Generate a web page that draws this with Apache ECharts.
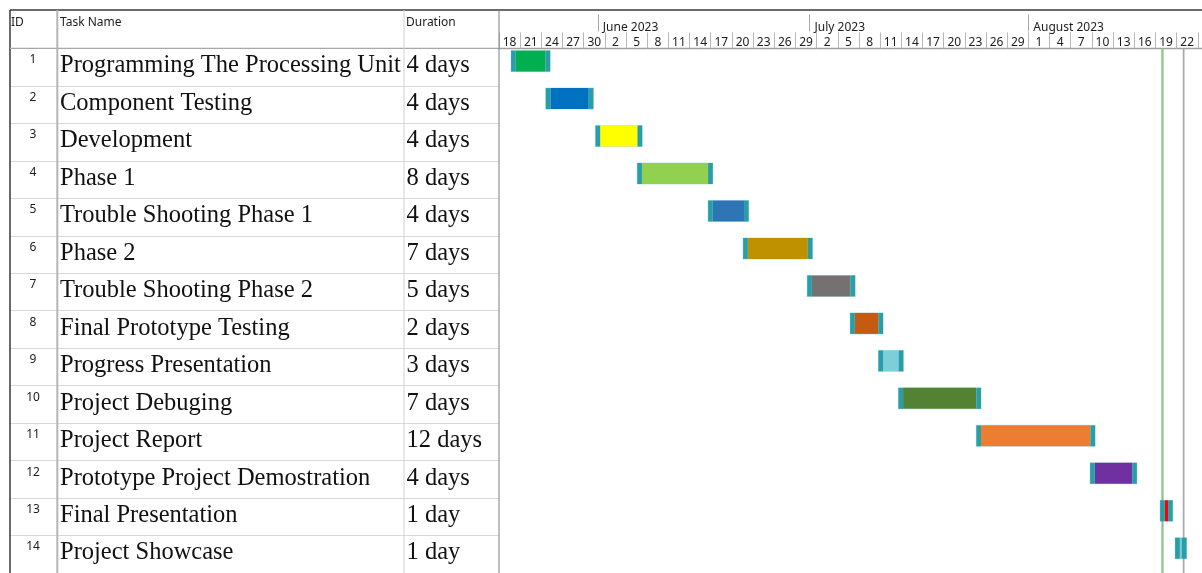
<!DOCTYPE html>
<html><head><meta charset="utf-8">
<script src="https://cdn.jsdelivr.net/npm/echarts@6/dist/echarts.min.js"></script>
<style>html,body{margin:0;padding:0;background:#fff}#c{width:1202px;height:573px}</style>
</head><body><div id="c"></div>
<script>
// ---------------- data ----------------
const columnHeaders = ['ID', 'Task Name', 'Duration'];
const taskIds = [1, 2, 3, 4, 5, 6, 7, 8, 9, 10, 11, 12, 13, 14];
const taskNames = [
  'Programming The Processing Unit', 'Component Testing', 'Development', 'Phase 1',
  'Trouble Shooting Phase 1', 'Phase 2', 'Trouble Shooting Phase 2', 'Final Prototype Testing',
  'Progress Presentation', 'Project Debuging', 'Project Report', 'Prototype Project Demostration',
  'Final Presentation', 'Project Showcase'
];
const durations = ['4 days', '4 days', '4 days', '8 days', '4 days', '7 days', '5 days', '2 days',
  '3 days', '7 days', '12 days', '4 days', '1 day', '1 day'];
const startTimes = ['2023-05-20 09:00', '2023-05-25 07:00', '2023-06-01 08:00', '2023-06-07 06:00',
  '2023-06-17 07:00', '2023-06-22 06:00', '2023-07-01 08:00', '2023-07-07 10:00',
  '2023-07-11 10:00', '2023-07-14 06:00', '2023-07-25 07:00', '2023-08-10 10:00',
  '2023-08-20 08:00', '2023-08-22 11:00'];
const endTimes = ['2023-05-24 14:00', '2023-05-30 17:00', '2023-06-06 15:00', '2023-06-16 15:00',
  '2023-06-21 17:00', '2023-06-30 18:00', '2023-07-06 19:00', '2023-07-10 18:00',
  '2023-07-13 15:00', '2023-07-24 15:00', '2023-08-09 19:00', '2023-08-15 17:00',
  '2023-08-20 19:00', '2023-08-22 18:00'];
const monthStarts = ['2023-06-01', '2023-07-01', '2023-08-01'];
const monthLabels = ['June 2023', 'July 2023', 'August 2023'];
const timelineStart = '2023-05-18';
const timelineEnd = '2023-08-25 14:24';
const markerDates = ['2023-08-20', '2023-08-23'];
const tickStepDays = 3;

// ---------------- styles ----------------
const barColors = ['#00b050', '#0070c0', '#ffff00', '#92d050', '#2e75b6', '#bf9000', '#767171',
  '#c55a11', '#7ccfd9', '#548235', '#ed7d31', '#7030a0', '#ff0000', '#74cbd4'];
const markerColors = ['#8cc78c', '#a8a8a8'];
const capColor = '#2a9ea8';

// ---------------- helpers ----------------
const DAY = 86400000;
function toMs(s) {
  const parts = s.split(' ');
  const d = parts[0].split('-').map(Number);
  let h = 0, m = 0;
  if (parts[1]) { const t = parts[1].split(':').map(Number); h = t[0]; m = t[1]; }
  return Date.UTC(d[0], d[1] - 1, d[2], h, m);
}
const BASE = toMs(timelineStart);
const toDay = s => (toMs(s) - BASE) / DAY;
const END = toDay(timelineEnd);
const cellCenters = [];
for (let v = 0; v + tickStepDays / 2 < END; v += tickStepDays) cellCenters.push(v + tickStepDays / 2);
const monthVals = monthStarts.map(toDay);

const barData = taskIds.map((id, i) => [toDay(startTimes[i]), toDay(endTimes[i]), i]);
const tableData = taskIds.map((id, i) => [0, i]);
const markerData = markerDates.map((d, i) => [toDay(d), i]);

const chart = echarts.init(document.getElementById('c'), null, { renderer: 'canvas' });
const UI = 'Noto Sans';

const option = {
  animation: false,
  backgroundColor: '#ffffff',
  grid: [
    { left: 499, top: 48.4, width: 703, height: 526 },
    { left: 10, top: 48.4, width: 489, height: 526 }
  ],
  xAxis: [
    {
      type: 'value', gridIndex: 0, position: 'top', min: 0, max: END, interval: tickStepDays,
      axisLine: { show: true, lineStyle: { color: '#a0a0a0', width: 1.3 } },
      axisTick: { show: true, inside: false, length: 16, lineStyle: { color: '#b8b8b8', width: 1 } },
      axisLabel: {
        customValues: cellCenters, margin: -0.5, fontSize: 12, color: '#1b1b1b', fontFamily: UI,
        formatter: v => String(new Date(BASE + (v - tickStepDays / 2) * DAY).getUTCDate())
      },
      splitLine: { show: false }
    },
    {
      type: 'value', gridIndex: 0, position: 'top', offset: 17, min: 0, max: END,
      axisLine: { show: false },
      axisTick: { show: true, customValues: monthVals, length: 17, lineStyle: { color: '#a8a8a8', width: 1 } },
      axisLabel: {
        customValues: monthVals, margin: -2, fontSize: 12, color: '#1b1b1b', fontFamily: UI,
        align: 'left', padding: [0, 0, 0, 5],
        formatter: v => { const k = monthVals.findIndex(m => Math.abs(m - v) < 1e-6); return k >= 0 ? monthLabels[k] : ''; }
      },
      splitLine: { show: false }
    },
    { type: 'value', gridIndex: 1, min: 0, max: 489, show: false }
  ],
  yAxis: [
    { type: 'category', gridIndex: 0, inverse: true, data: taskIds, show: false },
    {
      type: 'category', gridIndex: 1, inverse: true, data: taskIds,
      axisLine: { show: false }, axisTick: { show: false }, axisLabel: { show: false },
      splitLine: { show: true, lineStyle: { color: '#d9d9d9', width: 1 } }
    }
  ],
  graphic: [
    { type: 'line', shape: { x1: 10, y1: 10, x2: 1202, y2: 10 }, style: { stroke: '#3a3a3a', lineWidth: 1.5 }, z: 100 },
    { type: 'line', shape: { x1: 10, y1: 10, x2: 10, y2: 573 }, style: { stroke: '#3a3a3a', lineWidth: 1.5 }, z: 100 },
    { type: 'line', shape: { x1: 10, y1: 48.4, x2: 499, y2: 48.4 }, style: { stroke: '#a8a8a8', lineWidth: 1.3 }, z: 100 },
    { type: 'line', shape: { x1: 57.3, y1: 10, x2: 57.3, y2: 573 }, style: { stroke: '#b5b5b5', lineWidth: 2 }, z: 100 },
    { type: 'line', shape: { x1: 404, y1: 10, x2: 404, y2: 573 }, style: { stroke: '#d2d2d2', lineWidth: 1 }, z: 100 },
    { type: 'line', shape: { x1: 499, y1: 10, x2: 499, y2: 573 }, style: { stroke: '#808080', lineWidth: 1 }, z: 100 },
    { type: 'text', x: 11, y: 23, style: { text: columnHeaders[0], font: '12px "Noto Sans"', fill: '#1b1b1b', verticalAlign: 'middle' } },
    { type: 'text', x: 60, y: 23, style: { text: columnHeaders[1], font: '12px "Noto Sans"', fill: '#1b1b1b', verticalAlign: 'middle' } },
    { type: 'text', x: 406, y: 23, style: { text: columnHeaders[2], font: '12px "Noto Sans"', fill: '#1b1b1b', verticalAlign: 'middle' } }
  ],
  series: [
    {
      type: 'custom', name: 'table', xAxisIndex: 2, yAxisIndex: 1, data: tableData,
      encode: { x: 0, y: 1 }, clip: false, silent: true,
      renderItem: (params, api) => {
        const i = api.value(1);
        const c = api.coord([0, i]);
        const band = api.size([0, 1])[1];
        const rowTop = c[1] - band / 2;
        const x0 = params.coordSys.x;
        return {
          type: 'group', children: [
            { type: 'text', x: x0 + 23, y: rowTop + 11.5, style: { text: String(taskIds[i]), font: '12px "Noto Sans"', fill: '#1b1b1b', align: 'center', verticalAlign: 'middle' } },
            { type: 'text', x: x0 + 50, y: rowTop + 17.5, style: { text: taskNames[i], font: '24.5px "Liberation Serif"', fill: '#111111', align: 'left', verticalAlign: 'middle' } },
            { type: 'text', x: x0 + 396.5, y: rowTop + 17.5, style: { text: durations[i], font: '24.5px "Liberation Serif"', fill: '#111111', align: 'left', verticalAlign: 'middle' } }
          ]
        };
      }
    },
    {
      type: 'custom', name: 'markers', xAxisIndex: 0, yAxisIndex: 0, data: markerData,
      encode: { x: 0 }, clip: false, silent: true, z: 1,
      renderItem: (params, api) => {
        const x = api.coord([api.value(0), 0])[0];
        const k = api.value(1);
        const cs = params.coordSys;
        return {
          type: 'line', shape: { x1: x, y1: cs.y, x2: x, y2: cs.y + cs.height },
          style: { stroke: markerColors[k], lineWidth: k === 0 ? 2.3 : 1.7 }
        };
      }
    },
    {
      type: 'custom', name: 'tasks', xAxisIndex: 0, yAxisIndex: 0, data: barData,
      encode: { x: [0, 1], y: 2 }, clip: false, z: 2,
      renderItem: (params, api) => {
        const i = api.value(2);
        const s = api.coord([api.value(0), i]);
        const e = api.coord([api.value(1), i]);
        const band = api.size([0, 1])[1];
        const top = s[1] - band / 2 + 2.2;
        const h = 21;
        const cap = 4.7;
        return {
          type: 'group', children: [
            { type: 'rect', shape: { x: s[0] - cap - 0.5, y: top - 0.5, width: e[0] - s[0] + 2 * cap + 1, height: h + 1 }, style: { fill: 'rgba(120,200,210,0.45)' } },
            { type: 'rect', shape: { x: s[0], y: top, width: Math.max(e[0] - s[0], 0.5), height: h }, style: { fill: barColors[i] } },
            { type: 'rect', shape: { x: s[0] - cap, y: top, width: cap, height: h }, style: { fill: capColor } },
            { type: 'rect', shape: { x: e[0], y: top, width: cap, height: h }, style: { fill: capColor } }
          ]
        };
      }
    }
  ]
};
chart.setOption(option);
</script>
</body></html>
